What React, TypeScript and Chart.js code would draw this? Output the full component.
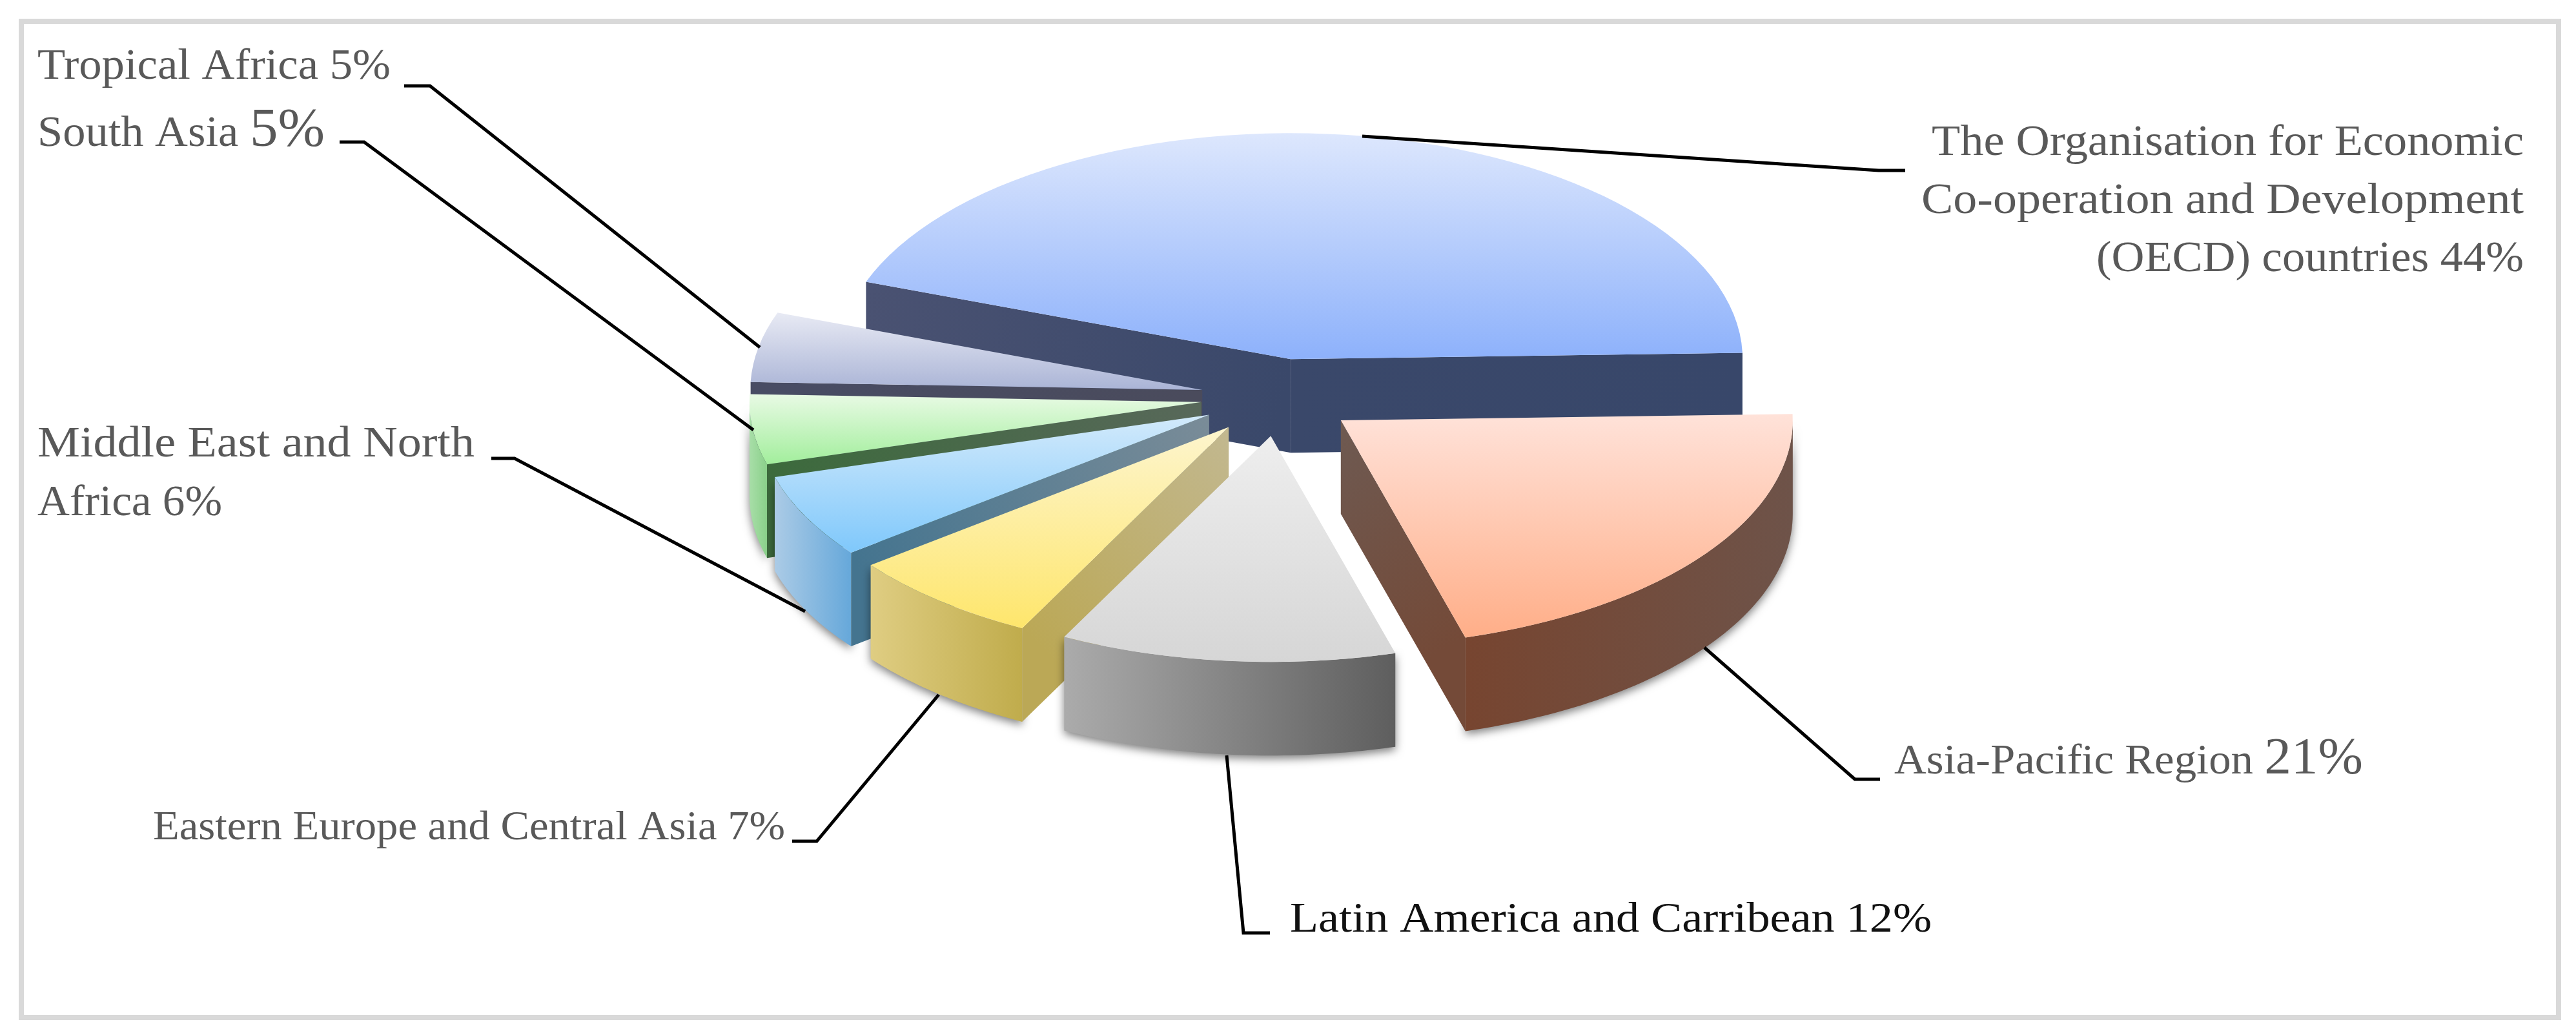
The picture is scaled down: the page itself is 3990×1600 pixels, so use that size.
import React, { useEffect, useRef } from "react";
import { Chart, registerables } from "chart.js";

Chart.register(...registerables);

const categories = [
  "The Organisation for Economic Co-operation and Development (OECD) countries",
  "Asia-Pacific Region",
  "Latin America and Carribean",
  "Eastern Europe and Central Asia",
  "Middle East and North Africa",
  "South Asia",
  "Tropical Africa",
];
const shares = [44, 21, 12, 7, 6, 5, 5];

const faceTop = ["#dde7fd", "#ffe2d9", "#eeeeee", "#fdf5ce", "#d3eafb", "#e8fae4", "#e8eaf4"];
const faceBottom = ["#8db1fb", "#ffae88", "#d6d6d6", "#fee66c", "#7fc8fb", "#a2ee9c", "#aab4d6"];
const rimLeft = ["#39486a", "#774530", "#ababab", "#dfcd82", "#abcbe6", "#a8dea8", "#4a4d62"];
const rimRight = ["#39486a", "#6e5349", "#5e5e5e", "#c0ac4c", "#66a8da", "#8ad08a", "#4a4d62"];
const edgeApex = ["#3a486a", "#6e5a52", "#888888", "#c2b890", "#7a8c98", "#58685a", "#4a4b5c"];
const edgeRimStart = ["#4a5272", "#744a38", "#888888", "#bba856", "#44748f", "#3c6a3c", "#484c64"];
const edgeRimEnd = ["#38476a", "#744a38", "#888888", "#bba856", "#44748f", "#3c6a3c", "#484c64"];

const paintOrder = [0, 6, 5, 4, 3, 2, 1];
const shadowed = [false, true, true, true, true, true, false];

const PIE = { cx: 1980, cy: 615.5, rim: 700, shift: 120, squash: 0.5, depth: 145, rotation: 290 };

type Run = { text: string; size: number };
type Label = { runs: Run[]; x: number; y: number; width: number; align: "left" | "right"; color: string };

const GREY = "#595959";
const labels: Label[] = [
  { runs: [{ text: "The Organisation for Economic", size: 68 }], x: 3909, y: 240, width: 917, align: "right", color: GREY },
  { runs: [{ text: "Co-operation and Development", size: 68 }], x: 3909, y: 330, width: 933, align: "right", color: GREY },
  { runs: [{ text: "(OECD) countries 44%", size: 68 }], x: 3909, y: 420, width: 662, align: "right", color: GREY },
  { runs: [{ text: "Asia-Pacific Region ", size: 66 }, { text: "21%", size: 80 }], x: 2934, y: 1198, width: 726, align: "left", color: GREY },
  { runs: [{ text: "Latin America and Carribean 12%", size: 66 }], x: 1998, y: 1443, width: 994, align: "left", color: "#111111" },
  { runs: [{ text: "Eastern Europe and Central Asia 7%", size: 64 }], x: 237, y: 1300, width: 979, align: "left", color: GREY },
  { runs: [{ text: "Middle East and North", size: 68 }], x: 58, y: 707, width: 677, align: "left", color: GREY },
  { runs: [{ text: "Africa 6%", size: 68 }], x: 58, y: 798, width: 286, align: "left", color: GREY },
  { runs: [{ text: "South Asia ", size: 68 }, { text: "5%", size: 84 }], x: 58, y: 226, width: 445, align: "left", color: GREY },
  { runs: [{ text: "Tropical Africa 5%", size: 68 }], x: 58, y: 122, width: 547, align: "left", color: GREY },
];

const leaders: number[][][] = [
  [[2951, 264], [2910, 264], [2110, 211]],
  [[2912, 1207], [2873, 1207], [2640, 1003]],
  [[1967, 1445], [1926, 1445], [1900, 1170]],
  [[1227, 1303], [1265, 1303], [1454, 1076]],
  [[761, 710], [797, 710], [1247, 947]],
  [[526, 220], [564, 220], [1167, 666]],
  [[626, 133], [666, 133], [1177, 538]],
];

const total = shares.reduce((a, b) => a + b, 0);

function sliceAngles(i: number) {
  const before = shares.slice(0, i).reduce((a, b) => a + b, 0);
  const base = ((PIE.rotation - 90) * Math.PI) / 180;
  return [base + (before / total) * 2 * Math.PI, base + ((before + shares[i]) / total) * 2 * Math.PI];
}

function faceGradient(c: any) {
  const chart = c.chart;
  const i = c.dataIndex;
  const area = chart.chartArea;
  if (!area) return faceTop[i];
  const centerY = (area.top + area.bottom) / 2;
  const [s, e] = sliceAngles(i);
  let lo = 0;
  let hi = 0;
  for (let k = 0; k <= 48; k++) {
    const y = PIE.rim * Math.sin(s + ((e - s) * k) / 48);
    lo = Math.min(lo, y);
    hi = Math.max(hi, y);
  }
  const g = chart.ctx.createLinearGradient(0, centerY + lo, 0, centerY + hi);
  g.addColorStop(0, faceTop[i]);
  g.addColorStop(1, faceBottom[i]);
  return g;
}

function drawWalls(ctx: CanvasRenderingContext2D, arc: any, i: number) {
  const { startAngle: s, endAngle: e, outerRadius: r } = arc;
  const mid = (s + e) / 2;
  const ax = PIE.cx + PIE.shift * Math.cos(mid);
  const ay = PIE.cy + PIE.shift * Math.sin(mid) * PIE.squash;
  const rim = (a: number, z: number) => [ax + r * Math.cos(a), ay + r * Math.sin(a) * PIE.squash + z];

  // outer curved wall: visible where the rim faces the viewer
  const twoPi = Math.PI * 2;
  for (const turn of [-1, 0, 1]) {
    const from = Math.max(s, turn * twoPi);
    const to = Math.min(e, turn * twoPi + Math.PI);
    if (to <= from) continue;
    const pts: number[][] = [];
    const steps = 60;
    for (let k = 0; k <= steps; k++) pts.push(rim(from + ((to - from) * k) / steps, 0));
    const xs = pts.map((p) => p[0]);
    const g = ctx.createLinearGradient(Math.min(...xs), 0, Math.max(...xs), 0);
    g.addColorStop(0, rimLeft[i]);
    g.addColorStop(1, rimRight[i]);
    ctx.save();
    if (shadowed[i]) {
      ctx.shadowColor = "rgba(0,0,0,0.5)";
      ctx.shadowBlur = 14;
      ctx.shadowOffsetY = 5;
    }
    ctx.fillStyle = g;
    ctx.beginPath();
    pts.forEach((p, k) => (k ? ctx.lineTo(p[0], p[1]) : ctx.moveTo(p[0], p[1])));
    for (let k = steps; k >= 0; k--) ctx.lineTo(pts[k][0], pts[k][1] + PIE.depth);
    ctx.closePath();
    ctx.fill();
    ctx.restore();
  }

  // straight cut faces: visible only when they turn towards the viewer
  const edges: [number, string][] = [];
  if (Math.cos(s) < 0) edges.push([s, edgeRimStart[i]]);
  if (Math.cos(e) > 0) edges.push([e, edgeRimEnd[i]]);
  for (const [a, rimColor] of edges) {
    const p = rim(a, 0);
    const g = ctx.createLinearGradient(ax, ay, p[0], p[1]);
    g.addColorStop(0, edgeApex[i]);
    g.addColorStop(1, rimColor);
    ctx.fillStyle = g;
    ctx.beginPath();
    ctx.moveTo(ax, ay);
    ctx.lineTo(p[0], p[1]);
    ctx.lineTo(p[0], p[1] + PIE.depth);
    ctx.lineTo(ax, ay + PIE.depth);
    ctx.closePath();
    ctx.fill();
  }
}

const pie3d = {
  id: "pie3d",
  beforeDraw(chart: any) {
    const ctx = chart.ctx;
    ctx.save();
    ctx.fillStyle = "#ffffff";
    ctx.fillRect(0, 0, chart.width, chart.height);
    ctx.strokeStyle = "#d9d9d9";
    ctx.lineWidth = 8;
    ctx.strokeRect(33, 33, 3930, 1543);
    ctx.restore();
  },
  beforeDatasetsDraw(chart: any) {
    const ctx = chart.ctx;
    const arcs = chart.getDatasetMeta(0).data;
    for (const i of paintOrder) {
      const arc = arcs[i];
      const mid = (arc.startAngle + arc.endAngle) / 2;
      drawWalls(ctx, arc, i);
      ctx.save();
      ctx.translate(PIE.cx, PIE.cy);
      ctx.scale(1, PIE.squash);
      ctx.translate(PIE.shift * Math.cos(mid), PIE.shift * Math.sin(mid));
      ctx.translate(-arc.x, -arc.y);
      arc.draw(ctx);
      ctx.restore();
    }
    return false;
  },
  afterDraw(chart: any) {
    const ctx = chart.ctx;
    ctx.save();
    ctx.strokeStyle = "#000000";
    ctx.lineWidth = 5;
    ctx.lineJoin = "miter";
    for (const line of leaders) {
      ctx.beginPath();
      line.forEach((p, k) => (k ? ctx.lineTo(p[0], p[1]) : ctx.moveTo(p[0], p[1])));
      ctx.stroke();
    }
    ctx.textBaseline = "alphabetic";
    ctx.textAlign = "left";
    for (const l of labels) {
      let natural = 0;
      for (const run of l.runs) {
        ctx.font = `${run.size}px "Liberation Serif"`;
        natural += ctx.measureText(run.text).width;
      }
      const stretch = l.width / natural;
      ctx.save();
      ctx.translate(l.align === "right" ? l.x - l.width : l.x, l.y);
      ctx.scale(stretch, 1);
      ctx.fillStyle = l.color;
      let x = 0;
      for (const run of l.runs) {
        ctx.font = `${run.size}px "Liberation Serif"`;
        ctx.fillText(run.text, x, 0);
        x += ctx.measureText(run.text).width;
      }
      ctx.restore();
    }
    ctx.restore();
  },
};

export default function App() {
  const ref = useRef<HTMLCanvasElement | null>(null);
  useEffect(() => {
    document.body.style.margin = "0";
    const chart = new Chart(ref.current as HTMLCanvasElement, {
      type: "pie",
      data: {
        labels: categories,
        datasets: [
          {
            data: shares,
            backgroundColor: faceGradient as any,
            borderWidth: 0,
            clip: false as any,
          },
        ],
      },
      options: {
        responsive: false,
        animation: false,
        events: [],
        rotation: PIE.rotation,
        radius: PIE.rim,
        layout: { padding: 0 },
        plugins: { legend: { display: false }, tooltip: { enabled: false } },
      } as any,
      plugins: [pie3d as any],
    });
    return () => chart.destroy();
  }, []);
  return <canvas ref={ref} width={3990} height={1600} style={{ display: "block" }} />;
}
